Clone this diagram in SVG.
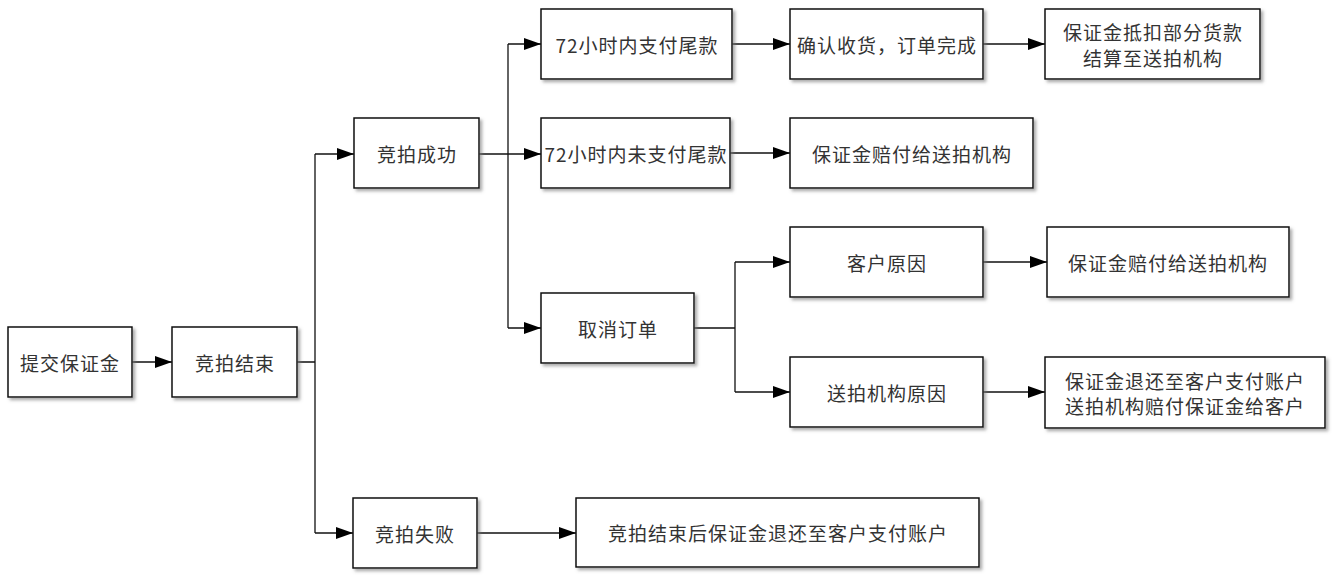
<svg xmlns="http://www.w3.org/2000/svg" width="1337" height="577" viewBox="0 0 1337 577">
<style>
.box{fill:#fff;stroke:#111;stroke-width:1.5;filter:url(#sh)}
.t{font-family:"Noto Sans CJK SC","Liberation Sans",sans-serif;font-size:19px;fill:#333;text-anchor:middle;dominant-baseline:central;letter-spacing:1px}
.c{fill:none;stroke:#111;stroke-width:1.3}
.a{marker-end:url(#ar)}
</style>
<defs>
<filter id="sh" x="-10%" y="-10%" width="130%" height="140%">
<feDropShadow dx="2.5" dy="2.5" stdDeviation="1.5" flood-color="#777" flood-opacity="0.6"/>
</filter>
<marker id="ar" markerUnits="userSpaceOnUse" markerWidth="18" markerHeight="12" refX="17" refY="6" orient="auto">
<path d="M0,0 L17,6 L0,12 Z" fill="#000"/>
</marker>
</defs>
<rect width="1337" height="577" fill="#fff"/>
<g id="connectors">
<path class="c a" d="M132,362 H172"/>
<path class="c" d="M297,362 H315 M315,154 V533"/>
<path class="c a" d="M315,154 H354"/>
<path class="c a" d="M315,533 H353"/>
<path class="c a" d="M479,154 H541"/>
<path class="c" d="M508,44 V328"/>
<path class="c a" d="M508,44 H541"/>
<path class="c a" d="M508,328 H541"/>
<path class="c" d="M694,328 H735 M735,262 V392"/>
<path class="c a" d="M735,262 H790"/>
<path class="c a" d="M735,392 H790"/>
<path class="c a" d="M732,44 H790"/>
<path class="c a" d="M983,44 H1045"/>
<path class="c a" d="M730,153 H790"/>
<path class="c a" d="M983,262 H1047"/>
<path class="c a" d="M983,392 H1045"/>
<path class="c a" d="M477,533 H576"/>
</g>
<g id="n1"><rect class="box" x="8" y="327" width="124" height="70"/><text class="t" x="70" y="362">提交保证金</text></g>
<g id="n2"><rect class="box" x="172" y="327" width="125" height="70"/><text class="t" x="235" y="362">竞拍结束</text></g>
<g id="n3"><rect class="box" x="354" y="118" width="125" height="70"/><text class="t" x="417" y="153">竞拍成功</text></g>
<g id="n4"><rect class="box" x="353" y="498" width="124" height="70"/><text class="t" x="415" y="533">竞拍失败</text></g>
<g id="n5"><rect class="box" x="576" y="498" width="403" height="69"/><text class="t" x="778" y="532">竞拍结束后保证金退还至客户支付账户</text></g>
<g id="n6"><rect class="box" x="541" y="9" width="191" height="70"/><text class="t" x="637" y="44">72小时内支付尾款</text></g>
<g id="n7"><rect class="box" x="541" y="118" width="189" height="70"/><text class="t" x="636" y="153">72小时内未支付尾款</text></g>
<g id="n8"><rect class="box" x="541" y="293" width="153" height="70"/><text class="t" x="618" y="328">取消订单</text></g>
<g id="n9"><rect class="box" x="790" y="9" width="193" height="70"/><text class="t" x="887" y="44">确认收货，订单完成</text></g>
<g id="n10"><rect class="box" x="1045" y="9" width="215" height="70"/><text class="t" x="1153" y="31">保证金抵扣部分货款</text><text class="t" x="1153" y="57">结算至送拍机构</text></g>
<g id="n11"><rect class="box" x="790" y="118" width="243" height="70"/><text class="t" x="912" y="153">保证金赔付给送拍机构</text></g>
<g id="n12"><rect class="box" x="790" y="227" width="193" height="70"/><text class="t" x="887" y="262">客户原因</text></g>
<g id="n13"><rect class="box" x="1047" y="227" width="242" height="70"/><text class="t" x="1168" y="262">保证金赔付给送拍机构</text></g>
<g id="n14"><rect class="box" x="790" y="357" width="193" height="70"/><text class="t" x="887" y="392">送拍机构原因</text></g>
<g id="n15"><rect class="box" x="1045" y="357" width="280" height="71"/><text class="t" x="1185" y="380">保证金退还至客户支付账户</text><text class="t" x="1185" y="405">送拍机构赔付保证金给客户</text></g>
</svg>
